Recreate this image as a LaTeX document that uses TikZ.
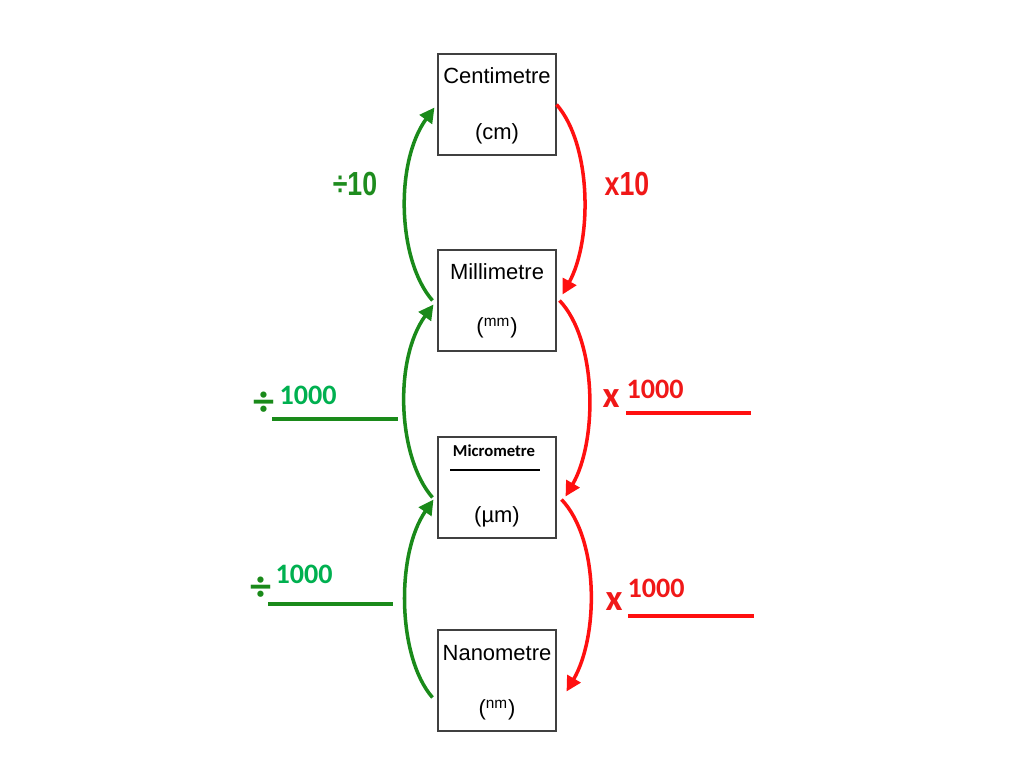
\documentclass[tikz,border=0pt]{standalone}
\usepackage{fontspec}
\setmainfont{Liberation Sans}
\newfontfamily\calfont{Carlito}
\usetikzlibrary{arrows.meta,calc}
\definecolor{garrow}{HTML}{1A8A1A}
\definecolor{glabel}{HTML}{00B050}
\definecolor{gdark}{HTML}{1E8C1E}
\definecolor{rarrow}{HTML}{FF1010}
\definecolor{rlabel}{HTML}{F01818}
\begin{document}
\begin{tikzpicture}[x=0.02cm,y=-0.02cm,
  unitbox/.style={draw=black!75,line width=0.6pt,fill=white,minimum width=2.36cm,minimum height=2.02cm,inner sep=0pt},
  boxtext/.style={font=\fontsize{12.5}{14}\selectfont,inner sep=0pt},
  garr/.style={draw=garrow,line width=2pt,-{Triangle[length=8.5pt,width=8.5pt]}},
  rarr/.style={draw=rarrow,line width=2pt,-{Triangle[length=8.5pt,width=8.5pt]}},
  bigg/.style={text=gdark,font=\fontsize{19}{22}\selectfont\bfseries,inner sep=0pt},
  bigr/.style={text=rlabel,font=\fontsize{19}{22}\selectfont\bfseries,inner sep=0pt},
  smallg/.style={text=glabel,font=\calfont\fontsize{16}{18}\selectfont\bfseries,inner sep=0pt},
  smallr/.style={text=rlabel,font=\calfont\fontsize{16}{18}\selectfont\bfseries,inner sep=0pt},
  symg/.style={text=garrow,font=\calfont\fontsize{24}{26}\selectfont\bfseries,inner sep=0pt},
  symr/.style={text=rlabel,font=\calfont\fontsize{21}{24}\selectfont\bfseries,inner sep=0pt},
  gline/.style={draw=garrow,line width=2.2pt},
  rline/.style={draw=rarrow,line width=2.2pt}]
\useasboundingbox (0,0) rectangle (1024,767);
% boxes
\node[unitbox] (cm) at (497,104.5) {};
\node[unitbox] (mm) at (497,300.5) {};
\node[unitbox] (um) at (497,487.5) {};
\node[unitbox] (nm) at (497,680.5) {};
% box texts
\node[boxtext] (cmt) at (497,76) {Centimetre};
\node[boxtext] (cmu) at (497,134) {(cm)};
\node[boxtext] (mmt) at (497,272) {Millimetre};
\node[boxtext] (mmu) at (497,328) {(\textsuperscript{mm})};
\node[inner sep=0pt,font=\calfont\fontsize{9.5}{11}\selectfont\bfseries] (umt) at (494,451) {Micrometre};
\coordinate (ul1) at (450,470);
\coordinate (ul2) at (540,470);
\draw[line width=1.1pt] (ul1) -- (ul2);
\node[boxtext] (umu) at (497,517) {(µm)};
\node[boxtext] (nmt) at (497,653) {Nanometre};
\node[boxtext] (nmu) at (497,710) {(\textsuperscript{nm})};
% green arrows (left)
\draw[garr] ($(mm.west)+(-5,0)$) .. controls +(-35,-40) and +(-40,55) .. ($(cm.west)+(-3,3)$);
\draw[garr] ($(um.west)+(-5,10)$) .. controls +(-35,-40) and +(-40,55) .. ($(mm.west)+(-4,4)$);
\draw[garr] ($(nm.west)+(-5,17)$) .. controls +(-35,-40) and +(-38,55) .. ($(um.west)+(-4,12)$);
% red arrows (right)
\draw[rarr] ($(cm.east)+(0,0)$) .. controls +(35,40) and +(30,-55) .. ($(mm.east)+(6,-6)$);
\draw[rarr] ($(mm.east)+(3,0)$) .. controls +(38,40) and +(32,-55) .. ($(um.east)+(9,9)$);
\draw[rarr] ($(um.east)+(5,12)$) .. controls +(38,40) and +(32,-55) .. ($(nm.east)+(10,11)$);
% labels
\node[bigg] (d10) at (355,184) {\scalebox{0.8}[1]{÷10}};
\node[bigr] (x10) at (627,184) {\scalebox{0.8}[1]{x10}};
\node[symg] (dsym1) at (264,404) {÷};
\node[smallg] (dnum1) at (308,395) {1000};
\coordinate (gl1a) at (272,419);
\coordinate (gl1b) at (398,419);
\draw[gline] (gl1a) -- (gl1b);
\node[symg] (dsym2) at (261,589) {÷};
\node[smallg] (dnum2) at (304,574) {1000};
\coordinate (gl2a) at (268,604);
\coordinate (gl2b) at (393,604);
\draw[gline] (gl2a) -- (gl2b);
\node[symr] (xsym1) at (611,399) {x};
\node[smallr] (xnum1) at (655,389) {1000};
\coordinate (rl1a) at (626,413);
\coordinate (rl1b) at (751,413);
\draw[rline] (rl1a) -- (rl1b);
\node[symr] (xsym2) at (614,602) {x};
\node[smallr] (xnum2) at (656,588) {1000};
\coordinate (rl2a) at (628,616);
\coordinate (rl2b) at (754,616);
\draw[rline] (rl2a) -- (rl2b);
\end{tikzpicture}
\end{document}
